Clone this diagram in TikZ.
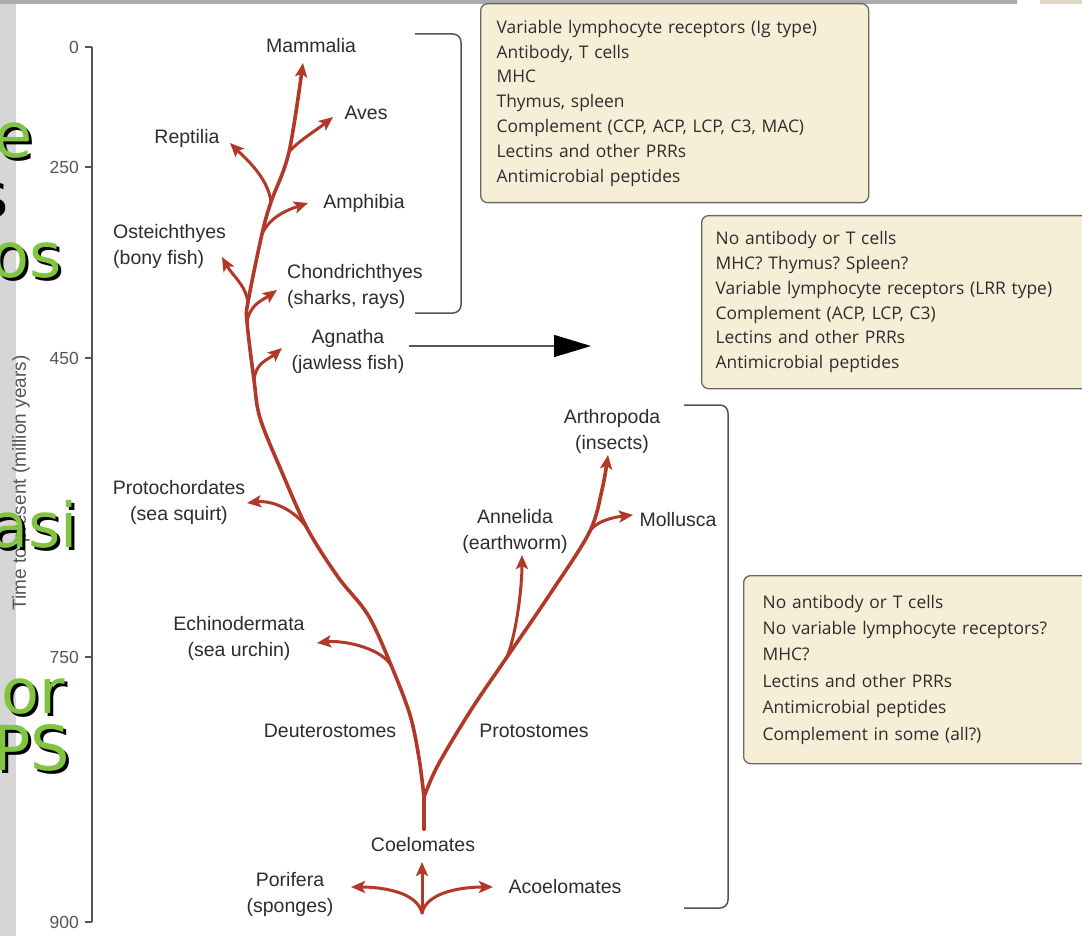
\documentclass[tikz,border=0pt]{standalone}
\usepackage{fontspec}
\setmainfont{Liberation Sans}
\newfontfamily\boxfont{Open Sans}
\newfontfamily\slidefont{DejaVu Sans}
\usetikzlibrary{arrows.meta}
\frenchspacing

\definecolor{treered}{RGB}{178,56,40}
\definecolor{boxfill}{RGB}{246,238,214}
\definecolor{boxline}{RGB}{105,105,100}
\definecolor{labelgray}{RGB}{45,45,45}
\definecolor{axisgray}{RGB}{85,85,85}
\definecolor{stripgray}{RGB}{214,214,214}
\definecolor{slidegreen}{RGB}{128,196,64}

\begin{document}
\begin{tikzpicture}[
        x=1pt, y=-1pt,
        taxon/.style={font=\fontsize{19.5}{26}\selectfont, text=labelgray, inner sep=0pt, align=center},
        stem/.style={draw=treered, line width=3.6pt, line cap=round},
        tip/.style={-{Stealth[length=14pt,width=12pt,inset=3pt]}},
        branch/.style={stem, line width=3pt, tip},
        infobox/.style={draw=boxline, fill=boxfill, line width=1.3pt, rounded corners=7pt,
            anchor=north west, align=left, text=labelgray, inner ysep=0pt,
            font=\boxfont\fontsize{17.4}{24.8}\selectfont},
        bracket/.style={draw=axisgray, line width=1.5pt, rounded corners=8pt},
        ticklabel/.style={font=\fontsize{17.5}{19}\selectfont, text=axisgray, anchor=east, inner sep=0pt},
        slide/.style={font=\slidefont\fontsize{62}{66}\selectfont, anchor=base east, inner sep=0pt}
    ]
        \useasboundingbox (0,0) rectangle (1082,936);
        \clip (0,0) rectangle (1082,936);
        \fill[white] (0,0) rectangle (1082,936);

        % Slide edges
        \fill[stripgray] (0,0) rectangle (16,936);
        \fill[black!33] (0,0) rectangle (1017,4);
        \fill[boxfill!80!gray] (1040,0) rectangle (1082,4);

        % Time axis
        \coordinate (axTop) at (92,47);
        \coordinate (axBot) at (92,922);
        \draw[axisgray, line width=1.3pt] (axTop) -- (axBot);
        \foreach \t/\yy in {0/47, 250/167, 450/358, 750/657, 900/922} {
            \draw[axisgray, line width=1.3pt] (85,\yy) -- (92,\yy);
            \node[ticklabel] (tick\t) at (79,\yy) {\t};
        }
        \node[font=\fontsize{19}{21}\selectfont, text=axisgray, rotate=90] (axtitle) at (21,483) {Time to present (million years)};

        % Brackets
        \draw[bracket] (415,34) -- (461,34) -- (461,313) -- (415,313);
        \draw[bracket] (684,405) -- (728,405) -- (728,908) -- (684,908);

        % Boxes
        \node[infobox, inner xsep=16pt, text width=356pt, minimum height=199pt] (vertbox) at (480,3)
            {Variable lymphocyte receptors (Ig type)\\Antibody, T cells\\MHC\\Thymus, spleen\\Complement (CCP, ACP, LCP, C3, MAC)\\Lectins and other PRRs\\Antimicrobial peptides};
        \node[infobox, inner xsep=14pt, text width=400pt, minimum height=173pt] (agnbox) at (701,215)
            {No antibody or T cells\\MHC? Thymus? Spleen?\\Variable lymphocyte receptors (LRR type)\\Complement (ACP, LCP, C3)\\Lectins and other PRRs\\Antimicrobial peptides};
        \node[infobox, inner xsep=19pt, text width=400pt, minimum height=188pt,
            font=\boxfont\fontsize{17.4}{26.4}\selectfont] (invbox) at (743,575)
            {No antibody or T cells\\No variable lymphocyte receptors?\\MHC?\\Lectins and other PRRs\\Antimicrobial peptides\\Complement in some (all?)};

        % Forks and tips
        \coordinate (root) at (422,913);
        \coordinate (coeUp) at (422,862);
        \coordinate (porTip) at (351,887);
        \coordinate (acoTip) at (493,887);
        \coordinate (coeTop) at (424,829);
        \coordinate (split) at (424,797);
        \coordinate (dEch) at (391,665);
        \coordinate (dPro) at (307,528);
        \coordinate (dAgn) at (254,380);
        \coordinate (dCho) at (247,322);
        \coordinate (dOst) at (248,302);
        \coordinate (dAmp) at (262,234);
        \coordinate (dRep) at (271,202);
        \coordinate (dAve) at (289,152);
        \coordinate (mamTip) at (303,63);
        \coordinate (pAnn) at (507,657);
        \coordinate (pMol) at (589,533);
        \coordinate (artTip) at (608,455);

        % Tree
        \draw[stem, line width=4.2pt] (coeTop) -- (split);
        \draw[stem, tip] plot[smooth, tension=0.55] coordinates {(split) (419,758) (410,715) (dEch)
            (368,615) (338,577) (dPro) (281,470) (260,418) (dAgn) (dCho) (dOst) (dAmp) (dRep) (dAve) (mamTip)};
        \draw[stem, tip] plot[smooth, tension=0.55] coordinates {(split) (438,765) (471,710) (pAnn)
            (548,597) (pMol) (602,490) (artTip)};
        \draw[branch] (dAve) .. controls +(8,-10) and +(-15,12) .. (333,117) coordinate (aveTip);
        \draw[branch] (dRep) .. controls +(-3,-25) and +(14,14) .. (230,143) coordinate (repTip);
        \draw[branch] (dAmp) .. controls +(8,-18) and +(-18,6) .. (308,203) coordinate (ampTip);
        \draw[branch] (dOst) .. controls +(-3,-18) and +(10,18) .. (222,257) coordinate (ostTip);
        \draw[branch] (dCho) .. controls +(3,-18) and +(-14,10) .. (277,290) coordinate (choTip);
        \draw[branch] (dAgn) .. controls +(2,-18) and +(-14,12) .. (282,348) coordinate (agnTip);
        \draw[branch] (dPro) .. controls +(-12,-18) and +(25,-3) .. (247,503) coordinate (proTip);
        \draw[branch] (dEch) .. controls +(-12,-18) and +(25,-3) .. (317,643) coordinate (echTip);
        \draw[branch] (pAnn) .. controls +(10,-25) and +(0,30) .. (522,555) coordinate (annTip);
        \draw[branch] (pMol) .. controls +(5,-12) and +(-18,2) .. (633,515) coordinate (molTip);
        \draw[branch] (root) -- (coeUp);
        \draw[branch] (root) .. controls +(-5,-22) and +(28,0) .. (porTip);
        \draw[branch] (root) .. controls +(5,-22) and +(-28,0) .. (acoTip);

        % Taxa
        \node[taxon] (mam) at (311,46) {Mammalia};
        \node[taxon] (ave) at (366,113) {Aves};
        \node[taxon] (rep) at (187,138) {Reptilia};
        \node[taxon] (amp) at (364,203) {Amphibia};
        \node[taxon, anchor=west, align=left] (ost) at (113,246) {Osteichthyes\\(bony fish)};
        \node[taxon, anchor=west, align=left] (cho) at (287,286) {Chondrichthyes\\(sharks, rays)};
        \node[taxon] (agn) at (348,351) {Agnatha\\(jawless fish)};
        \node[taxon] (pro) at (179,502) {Protochordates\\(sea squirt)};
        \node[taxon] (ech) at (239,638) {Echinodermata\\(sea urchin)};
        \node[taxon] (deu) at (330,731) {Deuterostomes};
        \node[taxon] (prs) at (534,731) {Protostomes};
        \node[taxon] (ann) at (515,531) {Annelida\\(earthworm)};
        \node[taxon] (art) at (612,431) {Arthropoda\\(insects)};
        \node[taxon] (mol) at (678,520) {Mollusca};
        \node[taxon] (coe) at (423,845) {Coelomates};
        \node[taxon] (por) at (290,894) {Porifera\\(sponges)};
        \node[taxon] (aco) at (565,887) {Acoelomates};

        % Agnatha pointer
        \coordinate (agnOut) at (409,346);
        \coordinate (agnHead) at (591,346);
        \draw[axisgray, line width=1.4pt, -{Triangle[length=37pt,width=22pt,color=black]}] (agnOut) -- (agnHead);

        % Slide text behind the figure
        \node[slide, text=black] (shs) at (9,218) {s};
        \foreach \word/\xx/\yy in {e/33/158, os/62/277, asi/78/547, or/65/713, PS/70/770} {
            \node[slide, text=black] (sh\word) at (\xx+3,\yy+3) {\word};
            \node[slide, text=slidegreen] (fg\word) at (\xx,\yy) {\word};
        }
    \end{tikzpicture}
\end{document}
